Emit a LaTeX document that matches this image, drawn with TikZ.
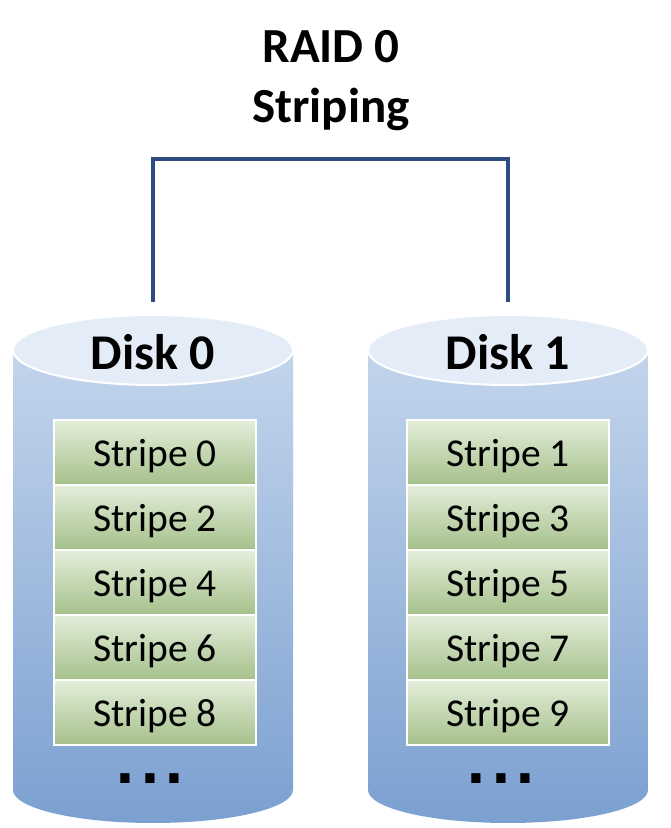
\documentclass[tikz,border=0pt]{standalone}
\usepackage{fontspec}
\setmainfont{Carlito}
\newfontfamily\dotfont{DejaVu Sans}
\definecolor{linkblue}{HTML}{2E4C7E}
\definecolor{bodytop}{HTML}{C9D9EE}
\definecolor{bodybot}{HTML}{7BA0D0}
\definecolor{captop}{HTML}{E4EDF7}
\definecolor{stripetop}{HTML}{E4EEDA}
\definecolor{stripebot}{HTML}{A4C08B}
\tikzset{
  stripebox/.style={draw=white, line width=2pt, top color=stripetop, bottom color=stripebot,
    minimum width=202pt, minimum height=65pt, inner sep=0pt, anchor=north west},
  stripetext/.style={font=\fontsize{39.5}{41}\selectfont, anchor=base, inner sep=0pt},
  disklabel/.style={font=\fontsize{50}{52}\selectfont\bfseries, anchor=base, inner sep=0pt},
  titletext/.style={font=\fontsize{49}{52}\selectfont\bfseries, anchor=base, inner sep=0pt},
  dotstext/.style={font=\dotfont\fontsize{52}{52}\selectfont\bfseries, inner sep=0pt},
  link/.style={draw=linkblue, line width=4pt, line join=miter},
}
\begin{document}
\begin{tikzpicture}[x=1pt,y=1pt]
\useasboundingbox (0,0) rectangle (670,828);
\fill[white] (0,0) rectangle (670,828);
% title
\node[titletext] (t1) at (331,765) {RAID 0};
\node[titletext] (t2) at (331,705) {Striping};
% cylinders
\foreach \cx/\nm in {153/0,508/1}{
  \shade[top color=bodytop, bottom color=bodybot]
    (\cx-140,478) -- (\cx-140,38) arc[start angle=180, end angle=360, x radius=140, y radius=33]
    -- (\cx+140,478) arc[start angle=0, end angle=180, x radius=140, y radius=35] -- cycle;
  \filldraw[fill=captop, draw=white, line width=2pt] (\cx,478) ellipse[x radius=140, y radius=35];
}
\node[disklabel] (d0) at (153,458) {Disk 0};
\node[disklabel] (d1) at (508,458) {Disk 1};
% stripes
\foreach \k/\a/\b in {0/0/1,1/2/3,2/4/5,3/6/7,4/8/9}{
  \node[stripebox] (sa\k) at (53,409-65*\k) {};
  \node[stripebox] (sb\k) at (406,409-65*\k) {};
  \node[stripetext] at ([yshift=-48pt]sa\k.north) {Stripe \a};
  \node[stripetext] at ([yshift=-48pt]sb\k.north) {Stripe \b};
}
\node[dotstext] (dots0) at (150,49) {.\kern5pt.\kern5pt.};
\node[dotstext] (dots1) at (501,49) {.\kern5pt.\kern5pt.};
% connector
\coordinate (c0) at (153,526);
\coordinate (c1) at (508,526);
\coordinate (j0) at (153,669);
\coordinate (j1) at (508,669);
\draw[link] (c0) -- (j0) -- (j1) -- (c1);
\end{tikzpicture}
\end{document}
